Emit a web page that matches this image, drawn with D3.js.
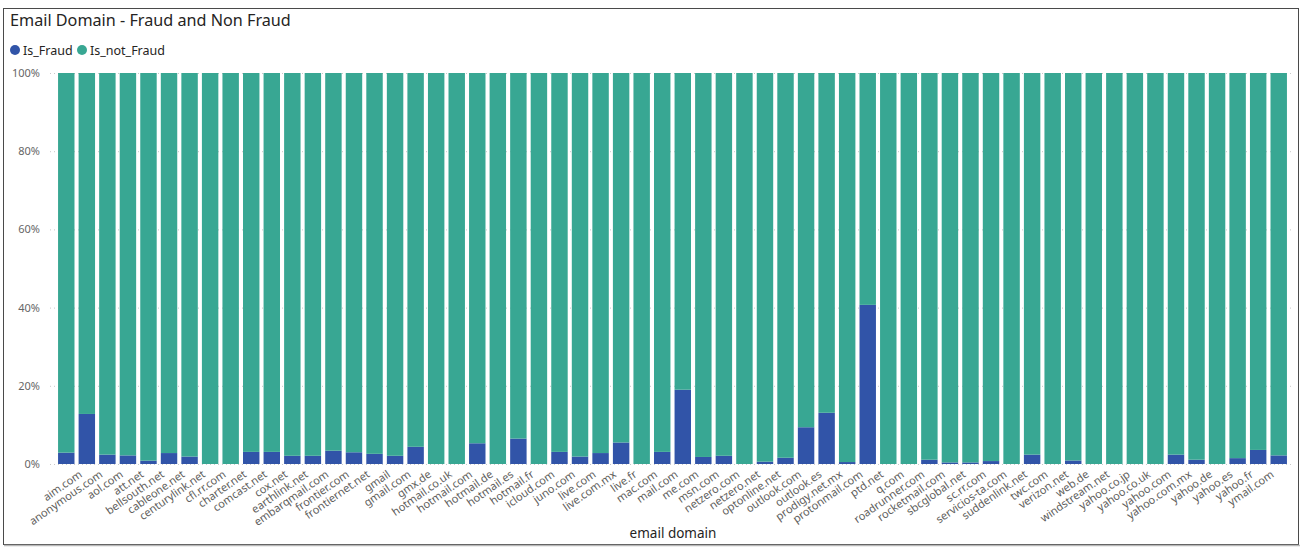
<!DOCTYPE html>
<html>
<head>
<meta charset="utf-8">
<script src="https://cdn.jsdelivr.net/npm/d3@7"></script>
<style>
  html, body { margin: 0; padding: 0; background: #fff; }
  svg { display: block; }
</style>
</head>
<body>
<div id="chart"></div>
<script>
    // email domains, first one is the blank category
    var domains = ["", "aim.com", "anonymous.com", "aol.com", "att.net", "bellsouth.net", "cableone.net",
        "centurylink.net", "cfl.rr.com", "charter.net", "comcast.net", "cox.net", "earthlink.net",
        "embarqmail.com", "frontier.com", "frontiernet.net", "gmail", "gmail.com", "gmx.de",
        "hotmail.co.uk", "hotmail.com", "hotmail.de", "hotmail.es", "hotmail.fr", "icloud.com",
        "juno.com", "live.com", "live.com.mx", "live.fr", "mac.com", "mail.com", "me.com", "msn.com",
        "netzero.com", "netzero.net", "optonline.net", "outlook.com", "outlook.es", "prodigy.net.mx",
        "protonmail.com", "ptd.net", "q.com", "roadrunner.com", "rocketmail.com", "sbcglobal.net",
        "sc.rr.com", "servicios-ta.com", "suddenlink.net", "twc.com", "verizon.net", "web.de",
        "windstream.net", "yahoo.co.jp", "yahoo.co.uk", "yahoo.com", "yahoo.com.mx", "yahoo.de",
        "yahoo.es", "yahoo.fr", "ymail.com"];

    // share of fraud per domain (%)
    var isFraud = [2.9, 12.8, 2.4, 2.2, 0.85, 2.8, 1.9,
        0, 0, 3.1, 3.1, 2.1, 2.1,
        3.4, 3.0, 2.6, 2.1, 4.4, 0,
        0, 5.3, 0, 6.5, 0, 3.1,
        1.9, 2.8, 5.5, 0, 3.1, 19.0, 1.8, 2.1,
        0, 0.6, 1.6, 9.4, 13.1, 0.5,
        40.7, 0, 0, 1.1, 0.4, 0.4,
        0.75, 0, 2.4, 0, 0.9, 0,
        0, 0, 0, 2.4, 1.1, 0,
        1.5, 3.6, 2.2];

    // the rest of each column
    var isNotFraud = isFraud.map(function (v) { return 100 - v; });

    var seriesNames = ["Is_Fraud", "Is_not_Fraud"];
    var seriesColors = ["#3154A8", "#38A793"];
    var yTicks = [0, 20, 40, 60, 80, 100];

    var width = 1311, height = 555;

    var svg = d3.select("#chart").append("svg")
        .attr("width", width)
        .attr("height", height)
        .style("font-family", "'Noto Sans', 'Open Sans', sans-serif");

    // visual frame
    svg.append("rect")
        .attr("x", 3.5).attr("y", 8.5)
        .attr("width", 1295).attr("height", 536)
        .attr("fill", "#fff")
        .attr("stroke", "#4a4a4a")
        .attr("stroke-width", 1);
    svg.append("line")
        .attr("x1", 4).attr("x2", 1300)
        .attr("y1", 545.5).attr("y2", 545.5)
        .attr("stroke", "#b8b8b8").attr("stroke-width", 1.5);

    // title
    svg.append("text")
        .text("Email Domain - Fraud and Non Fraud")
        .attr("x", 10).attr("y", 26)
        .attr("font-size", "16.2px")
        .attr("fill", "#252423");

    // legend
    var legendX = [15, 82];
    seriesNames.forEach(function (name, i) {
        svg.append("circle")
            .attr("cx", legendX[i]).attr("cy", 50).attr("r", 5)
            .attr("fill", seriesColors[i]);
        svg.append("text")
            .text(name)
            .attr("x", legendX[i] + 8).attr("y", 54.5)
            .attr("font-size", "12.5px")
            .attr("fill", "#252423");
    });

    // scales
    var x = d3.scaleBand()
        .domain(d3.range(domains.length))
        .range([56, 1289])
        .paddingInner(0.2)
        .paddingOuter(0.1);

    var y = d3.scaleLinear()
        .domain([0, 100])
        .range([464, 73]);

    // dotted gridlines + y labels
    var yAxis = svg.append("g")
        .attr("transform", "translate(50,0)")
        .call(d3.axisLeft(y)
            .tickValues(yTicks)
            .tickSize(-1242)
            .tickPadding(10)
            .tickFormat(function (d) { return d + "%"; }));
    yAxis.select(".domain").remove();
    yAxis.selectAll(".tick line")
        .attr("stroke", "#c8c8c8")
        .attr("stroke-dasharray", "1,3");
    yAxis.selectAll(".tick text")
        .attr("font-size", "11px")
        .attr("fill", "#666666")
        .style("font-family", "'Noto Sans', 'Open Sans', sans-serif");

    // stacked columns
    var rows = domains.map(function (d, i) {
        return { domain: d, Is_Fraud: isFraud[i], Is_not_Fraud: isNotFraud[i], i: i };
    });
    var stacked = d3.stack().keys(seriesNames)(rows);

    svg.selectAll("g.series")
        .data(stacked)
        .enter()
        .append("g")
        .attr("class", "series")
        .attr("fill", function (d, i) { return seriesColors[i]; })
        .selectAll("rect")
        .data(function (d) { return d; })
        .enter()
        .append("rect")
        .attr("x", function (d) { return x(d.data.i); })
        .attr("y", function (d) { return y(d[1]); })
        .attr("width", x.bandwidth())
        .attr("height", function (d) { return Math.max(0, y(d[0]) - y(d[1])); });

    // x axis labels
    var xAxis = svg.append("g")
        .attr("transform", "translate(0,464)")
        .call(d3.axisBottom(x)
            .tickSize(0)
            .tickFormat(function (i) { return domains[i]; }));
    xAxis.select(".domain").remove();
    xAxis.selectAll(".tick text")
        .attr("font-size", "11px")
        .attr("fill", "#605e5c")
        .style("font-family", "'Noto Sans', 'Open Sans', sans-serif")
        .attr("text-anchor", "end")
        .attr("dy", 0)
        .attr("y", 0)
        .attr("transform", "translate(-4,12) rotate(-35)");

    // x axis title
    svg.append("text")
        .text("email domain")
        .attr("x", 673).attr("y", 538)
        .attr("text-anchor", "middle")
        .attr("font-size", "13.5px")
        .attr("fill", "#252423");
</script>
</body>
</html>
